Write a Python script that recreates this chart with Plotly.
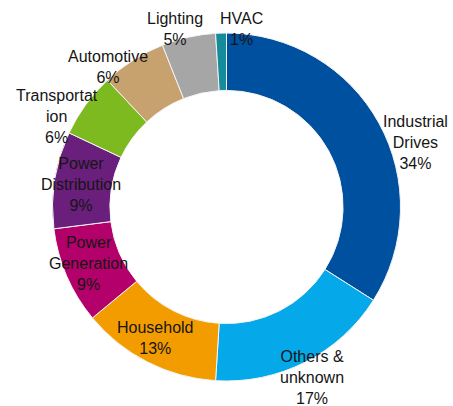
import plotly.graph_objects as go

categories = ["Industrial Drives", "Others & unknown", "Household", "Power Generation",
              "Power Distribution", "Transportation", "Automotive", "Lighting", "HVAC"]
values = [34, 17, 13, 9, 9, 6, 6, 5, 1]
# how each category label is wrapped in the chart
label_text = ["Industrial<br>Drives", "Others &<br>unknown", "Household", "Power<br>Generation",
              "Power<br>Distribution", "Transportat<br>ion", "Automotive", "Lighting", "HVAC"]

colors = ["#0050A0", "#05A8E8", "#F39C00", "#B4006A", "#6B1F7C",
          "#7DBA1F", "#C8A26E", "#A6A6A6", "#168B9A"]
# label block centres in pixels from top-left
label_pos = [(415, 143), (312, 377), (155, 338), (88, 263), (81, 185),
             (57, 116), (108, 67), (175, 29), (242, 29)]

W, H = 453, 406
cx, cy, r = 226.5, 207, 174

fig = go.Figure(go.Pie(
    labels=categories, values=values, sort=False, direction="clockwise", rotation=0,
    hole=0.67, textinfo="none", hoverinfo="label+percent",
    marker=dict(colors=colors, line=dict(color="#F4F4F4", width=1)),
    domain=dict(x=[(cx - r) / W, (cx + r) / W], y=[1 - (cy + r) / H, 1 - (cy - r) / H]),
    showlegend=False,
))

for txt, v, (px, py) in zip(label_text, values, label_pos):
    fig.add_annotation(
        x=px / W, y=1 - py / H, xref="paper", yref="paper",
        text=f"{txt}<br>{v}%", showarrow=False, align="center",
        xanchor="center", yanchor="middle",
        font=dict(family="Liberation Sans, Arial, sans-serif", size=16, color="#151515"),
    )

fig.update_layout(width=W, height=H, margin=dict(l=0, r=0, t=0, b=0),
                  paper_bgcolor="white", plot_bgcolor="white")
fig.write_html("out.html", config={"displayModeBar": False},
               post_script="document.body.style.margin='0';document.body.style.overflow='hidden';")
